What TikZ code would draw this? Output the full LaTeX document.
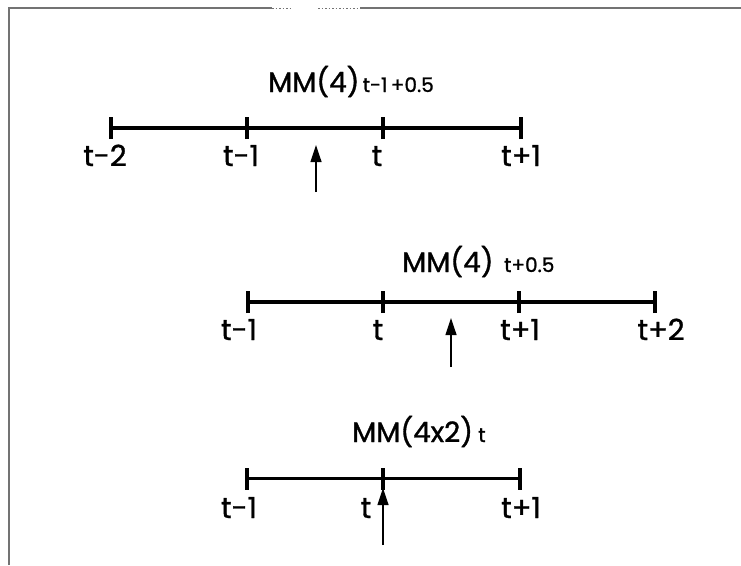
\documentclass[tikz,border=0pt]{standalone}
\usepackage{fontspec}
\setmainfont{Poppins}[FakeBold=1.2]
\usetikzlibrary{arrows.meta}
\tikzset{
  axis/.style={line width=3.2pt},
  tickmark/.style={line width=4.4pt},
  lbl/.style={anchor=base, inner sep=0pt, font=\fontsize{29}{29}\selectfont},
  ttl/.style={anchor=base west, inner sep=0pt},
  pointer/.style={line width=1.2pt, -{Triangle[width=11pt,length=17pt]}},
  frame/.style={line width=1.8pt, black!55},
}
\newcommand{\bigpart}[1]{{\fontsize{28}{28}\selectfont #1}}
\newcommand{\smallpart}[1]{{\fontsize{20}{20}\selectfont #1}}
\begin{document}
\begin{tikzpicture}[x=1pt,y=-1pt]
\useasboundingbox (0,0) rectangle (741,565);

% frame edges
\coordinate (fl) at (9,565);
\coordinate (fc) at (9,8);
\coordinate (fa) at (272,8);
\coordinate (fb) at (293,8);
\coordinate (fd) at (318,8);
\coordinate (fe) at (360,8);
\coordinate (fr) at (741,8);
\draw[frame] (fl) -- (fc) -- (fa);
\draw[frame, line width=1pt, dash pattern=on 1.5pt off 2pt] (fa) -- (fb);
\draw[frame, line width=1pt, dash pattern=on 1.5pt off 2pt] (fd) -- (fe);
\draw[frame] (fe) -- (fr);

% ---- first scale: MM(4) centred at t-1+0.5
\node[ttl] (title1) at (268,92) {\bigpart{MM(4)}\smallpart{\,t-1\,+0.5}};
\foreach \n/\x in {a/111, b/247, c/383, d/521}
  \coordinate (u\n) at (\x,128);
\draw[axis] (ua) -- (ud);
\foreach \n in {a,b,c,d}
  \draw[tickmark] ([yshift=-11pt]u\n) -- ([yshift=11pt]u\n);
\node[lbl] (ula) at (105,166) {t-2};
\node[lbl] (ulb) at (241,166) {t-1};
\node[lbl] (ulc) at (377,166) {t};
\node[lbl] (uld) at (521,166) {t+1};
\coordinate (up0) at (316,192);
\coordinate (up1) at (316,145);
\draw[pointer] (up0) -- (up1);

% ---- second scale: MM(4) centred at t+0.5
\node[ttl] (title2) at (402,272) {\bigpart{MM(4)}\smallpart{\ \ t+0.5}};
\foreach \n/\x in {a/248, b/383, c/519, d/655}
  \coordinate (m\n) at (\x,302);
\draw[axis] (ma) -- (md);
\foreach \n in {a,b,c,d}
  \draw[tickmark] ([yshift=-11pt]m\n) -- ([yshift=11pt]m\n);
\node[lbl] (mla) at (239,340) {t-1};
\node[lbl] (mlb) at (378,340) {t};
\node[lbl] (mlc) at (520,340) {t+1};
\node[lbl] (mld) at (661,340) {t+2};
\coordinate (mp0) at (451,367);
\coordinate (mp1) at (451,318);
\draw[pointer] (mp0) -- (mp1);

% ---- third scale: centred MM(4x2) at t
\node[ttl] (title3) at (352,442) {\bigpart{MM(4x2)}\smallpart{\ t}};
\foreach \n/\x in {a/247, b/383, c/520}
  \coordinate (l\n) at (\x,478.5);
\draw[axis] (la) -- (lc);
\foreach \n in {a,b,c}
  \draw[tickmark] ([yshift=-11pt]l\n) -- ([yshift=11pt]l\n);
\node[lbl] (lla) at (239,518) {t-1};
\node[lbl] (llb) at (366,518) {t};
\node[lbl] (llc) at (521,518) {t+1};
\coordinate (lp0) at (383,545);
\coordinate (lp1) at (383,488);
\draw[pointer] (lp0) -- (lp1);
\end{tikzpicture}
\end{document}
